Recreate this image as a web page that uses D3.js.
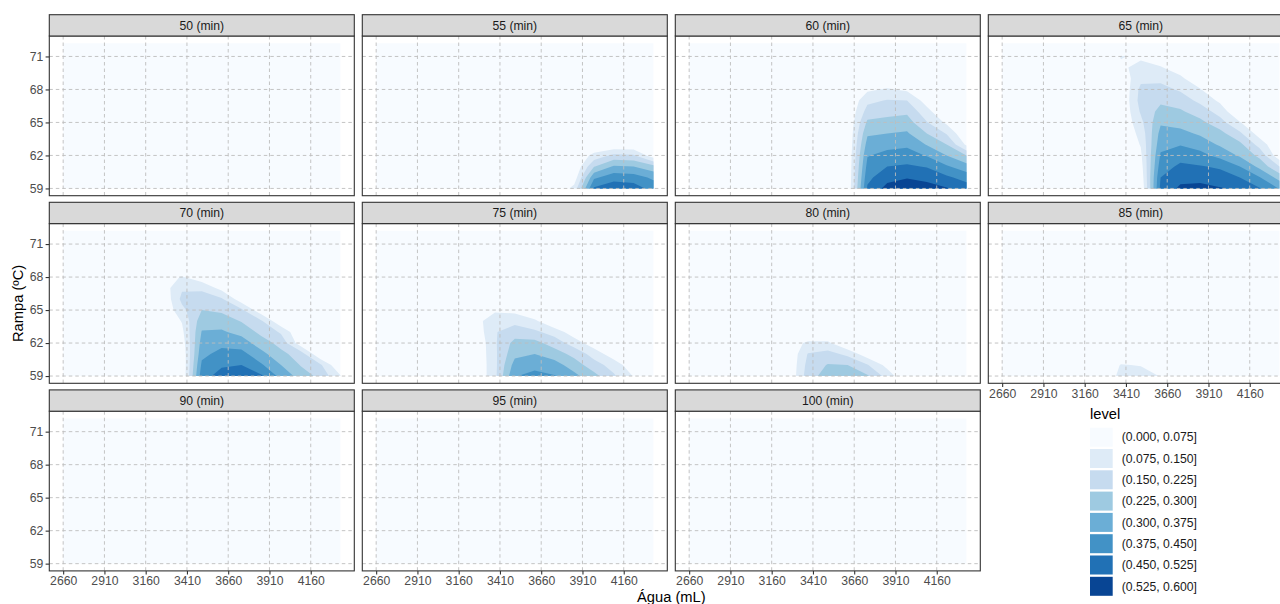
<!DOCTYPE html>
<html>
<head>
<meta charset="utf-8">
<script src="https://cdn.jsdelivr.net/npm/d3@7"></script>
<style>
  body { margin: 0; background: #ffffff; }
  svg { display: block; font-family: "Liberation Sans", Arial, sans-serif; }
</style>
</head>
<body>
<svg id="chart" width="1280" height="604"></svg>
<script>
// Prediction grid: water (mL) columns and ramp temperature (ºC) rows
const agua   = [2660, 3260, 3380, 3500, 3620, 3740, 3860, 3980, 4100, 4220, 4340];
const rampa  = [59, 60, 61, 62, 63, 64, 65, 66, 67, 68, 69, 70, 71, 72.2];
const tempos = [50, 55, 60, 65, 70, 75, 80, 85, 90, 95, 100];

const aguaTicks  = [2660, 2910, 3160, 3410, 3660, 3910, 4160];
const rampaTicks = [59, 62, 65, 68, 71];

const niveis = [0, 0.075, 0.15, 0.225, 0.3, 0.375, 0.45, 0.525, 0.6];
const cores  = ["#f7fbff", "#deebf7", "#c6dbef", "#9ecae1", "#6baed6", "#4292c6", "#2171b5", "#084594"];

// Predicted level per time; each row is one Rampa value (from 59 upwards),
// rows not listed are 0 across the whole row
const z50 = [];
const z55 = [
  [0, 0, 0, 0, 0, 0, 0.10, 0.46, 0.50, 0.49, 0.42],
  [0, 0, 0, 0, 0, 0, 0.03, 0.36, 0.42, 0.41, 0.36],
  [0, 0, 0, 0, 0, 0, 0.00, 0.22, 0.31, 0.30, 0.25],
  [0, 0, 0, 0, 0, 0, 0.00, 0.10, 0.17, 0.16, 0.03]
];
const z60 = [
  [0, 0, 0, 0, 0, 0.46, 0.55, 0.57, 0.56, 0.53, 0.49],
  [0, 0, 0, 0, 0, 0.43, 0.50, 0.52, 0.50, 0.465, 0.42],
  [0, 0, 0, 0, 0, 0.40, 0.45, 0.46, 0.445, 0.385, 0.33],
  [0, 0, 0, 0, 0, 0.37, 0.40, 0.41, 0.37, 0.30, 0.225],
  [0, 0, 0, 0, 0, 0.33, 0.35, 0.36, 0.295, 0.225, 0.06],
  [0, 0, 0, 0, 0, 0.29, 0.30, 0.31, 0.225, 0.145, 0],
  [0, 0, 0, 0, 0, 0.24, 0.25, 0.26, 0.155, 0.06, 0],
  [0, 0, 0, 0, 0, 0.18, 0.20, 0.21, 0.10, 0, 0],
  [0, 0, 0, 0, 0, 0.13, 0.155, 0.15, 0.04, 0, 0],
  [0, 0, 0, 0, 0, 0.06, 0.085, 0.06, 0, 0, 0]
];
const z65 = [
  [0, 0, 0, 0.00, 0.47, 0.54, 0.55, 0.53, 0.51, 0.455, 0.37],
  [0, 0, 0, 0.02, 0.45, 0.50, 0.50, 0.48, 0.45, 0.38, 0.27],
  [0, 0, 0, 0.04, 0.415, 0.465, 0.455, 0.44, 0.375, 0.28, 0.15],
  [0, 0, 0, 0.06, 0.385, 0.42, 0.40, 0.35, 0.29, 0.205, 0.02],
  [0, 0, 0, 0.08, 0.35, 0.37, 0.34, 0.29, 0.245, 0.12, 0],
  [0, 0, 0, 0.10, 0.325, 0.32, 0.29, 0.25, 0.165, 0.04, 0],
  [0, 0, 0, 0.13, 0.29, 0.275, 0.245, 0.18, 0.08, 0, 0],
  [0, 0, 0, 0.16, 0.25, 0.235, 0.19, 0.12, 0, 0, 0],
  [0, 0, 0, 0.18, 0.21, 0.19, 0.13, 0.06, 0, 0, 0],
  [0, 0, 0, 0.17, 0.175, 0.14, 0.08, 0, 0, 0, 0],
  [0, 0, 0.02, 0.13, 0.13, 0.09, 0.02, 0, 0, 0, 0],
  [0, 0, 0.06, 0.10, 0.08, 0.04, 0, 0, 0, 0, 0],
  [0, 0, 0.08, 0.06, 0.03, 0, 0, 0, 0, 0, 0]
];
const z70 = [
  [0, 0, 0.00, 0.42, 0.48, 0.50, 0.46, 0.35, 0.27, 0.20, 0.08],
  [0, 0, 0.00, 0.39, 0.44, 0.45, 0.385, 0.30, 0.22, 0.16, 0],
  [0, 0, 0.01, 0.355, 0.40, 0.40, 0.325, 0.245, 0.19, 0, 0],
  [0, 0, 0.03, 0.33, 0.355, 0.34, 0.26, 0.20, 0.03, 0, 0],
  [0, 0, 0.055, 0.305, 0.31, 0.275, 0.205, 0.14, 0, 0, 0],
  [0, 0, 0.08, 0.27, 0.265, 0.22, 0.16, 0.01, 0, 0, 0],
  [0, 0, 0.13, 0.225, 0.21, 0.165, 0.02, 0, 0, 0, 0],
  [0, 0, 0.17, 0.20, 0.16, 0.03, 0, 0, 0, 0, 0],
  [0, 0.03, 0.14, 0.13, 0.05, 0, 0, 0, 0, 0, 0],
  [0, 0.04, 0.08, 0.03, 0, 0, 0, 0, 0, 0, 0]
];
const z75 = [
  [0, 0, 0.13, 0.37, 0.40, 0.38, 0.32, 0.25, 0.16, 0.07, 0],
  [0, 0, 0.13, 0.33, 0.35, 0.33, 0.265, 0.18, 0.12, 0.02, 0],
  [0, 0, 0.135, 0.28, 0.30, 0.265, 0.20, 0.12, 0.03, 0, 0],
  [0, 0, 0.14, 0.25, 0.25, 0.19, 0.115, 0.03, 0, 0, 0],
  [0, 0.02, 0.145, 0.185, 0.165, 0.12, 0.03, 0, 0, 0, 0],
  [0, 0.04, 0.13, 0.13, 0.09, 0, 0, 0, 0, 0, 0],
  [0, 0.03, 0.06, 0.05, 0, 0, 0, 0, 0, 0, 0]
];
const z80 = [
  [0, 0, 0.19, 0.26, 0.26, 0.235, 0.12, 0, 0, 0, 0],
  [0, 0, 0.175, 0.23, 0.225, 0.155, 0.05, 0, 0, 0, 0],
  [0, 0, 0.155, 0.18, 0.13, 0.03, 0, 0, 0, 0, 0],
  [0, 0.03, 0.09, 0.09, 0, 0, 0, 0, 0, 0, 0]
];
const z85 = [
  [0, 0, 0.10, 0.12, 0.07, 0, 0, 0, 0, 0, 0],
  [0, 0, 0.08, 0.07, 0, 0, 0, 0, 0, 0, 0]
];
const z90 = [];
const z95 = [];
const z100 = [];

const superficies = [z50, z55, z60, z65, z70, z75, z80, z85, z90, z95, z100];

// ---- layout ----
const svg = d3.select("#chart");
const nCols = 4;
const panelW = 305, panelH = 159.7, stripH = 21.3;
const colX0 = 49.3, colStep = 313;
const rowY0 = 14.7, rowStep = 187.6;
const tickLen = 3.7, tickPad = 2.2;
const smallFont = 12.2, titleFont = 14.7;
const gridColor = "#bdbdbd", borderColor = "#333333";

// ggplot-style 5% expansion on both axes
const xPad = (agua[agua.length - 1] - agua[0]) * 0.05;
const yPad = (rampa[rampa.length - 1] - rampa[0]) * 0.05;
const x = d3.scaleLinear().domain([agua[0] - xPad, agua[agua.length - 1] + xPad]).range([0, panelW]);
const y = d3.scaleLinear().domain([rampa[0] - yPad, rampa[rampa.length - 1] + yPad]).range([panelH, 0]);

// grid index -> data value (cell centres sit at i + 0.5)
const gx = d3.scaleLinear().domain(agua.map((_, i) => i + 0.5)).range(agua).clamp(true);
const gy = d3.scaleLinear().domain(rampa.map((_, i) => i + 0.5)).range(rampa).clamp(true);
const path = d3.geoPath(d3.geoTransform({
  point(px, py) { this.stream.point(x(gx(px)), y(gy(py))); }
}));

const nx = agua.length, ny = rampa.length;
const contours = d3.contours().size([nx, ny]).thresholds(niveis.slice(0, -1));

tempos.forEach((t, k) => {
  const col = k % nCols, row = Math.floor(k / nCols);
  const left = colX0 + col * colStep;
  const stripTop = rowY0 + row * rowStep;
  const top = stripTop + stripH;

  const rows = superficies[k];
  const values = new Array(nx * ny);
  for (let j = 0; j < ny; j++)
    for (let i = 0; i < nx; i++)
      values[i + j * nx] = rows[j] ? rows[j][i] : 0;

  const g = svg.append("g").attr("transform", `translate(${left},${top})`);

  // filled level bands
  g.append("g").selectAll("path")
    .data(contours(values))
    .join("path")
    .attr("d", path)
    .attr("fill", d => cores[niveis.indexOf(d.value)])
    .attr("stroke", "none");

  // dashed major grid drawn over the fills
  const grid = g.append("g").attr("stroke", gridColor).attr("stroke-width", 0.9)
    .attr("stroke-dasharray", "3.5,3").attr("fill", "none");
  grid.selectAll("line.v").data(aguaTicks).join("line").attr("class", "v")
    .attr("x1", d => x(d)).attr("x2", d => x(d)).attr("y1", 0).attr("y2", panelH);
  grid.selectAll("line.h").data(rampaTicks).join("line").attr("class", "h")
    .attr("y1", d => y(d)).attr("y2", d => y(d)).attr("x1", 0).attr("x2", panelW);

  // panel border
  g.append("rect").attr("width", panelW).attr("height", panelH)
    .attr("fill", "none").attr("stroke", borderColor).attr("stroke-width", 1.1);

  // strip
  const s = svg.append("g").attr("transform", `translate(${left},${stripTop})`);
  s.append("rect").attr("width", panelW).attr("height", stripH)
    .attr("fill", "#d9d9d9").attr("stroke", borderColor).attr("stroke-width", 1.1);
  s.append("text").attr("x", panelW / 2).attr("y", stripH / 2).attr("dy", "0.35em")
    .attr("text-anchor", "middle").attr("font-size", smallFont).attr("fill", "#1a1a1a")
    .text(`${t} (min)`);

  // y axis on the first column
  if (col === 0) {
    const ay = g.append("g").call(d3.axisLeft(y).tickValues(rampaTicks).tickSize(tickLen).tickPadding(tickPad));
    styleAxis(ay);
  }
  // x axis on panels with nothing below them
  const below = k + nCols;
  if (below >= tempos.length) {
    const ax = g.append("g").attr("transform", `translate(0,${panelH})`)
      .call(d3.axisBottom(x).tickValues(aguaTicks).tickFormat(d3.format("d")).tickSize(tickLen).tickPadding(tickPad));
    styleAxis(ax);
  }
});

function styleAxis(a) {
  a.select(".domain").remove();
  a.selectAll(".tick line").attr("stroke", borderColor).attr("stroke-width", 1.1);
  a.selectAll(".tick text").attr("fill", "#4d4d4d").attr("font-size", smallFont)
    .attr("font-family", "'Liberation Sans', Arial, sans-serif");
}

// axis titles
const bottomOfPanels = rowY0 + 2 * rowStep + stripH + panelH;
svg.append("text")
  .attr("x", colX0 + (3 * colStep + panelW) / 2).attr("y", 602)
  .attr("text-anchor", "middle").attr("font-size", titleFont).attr("fill", "#000")
  .text("Água (mL)");
svg.append("text")
  .attr("transform", `translate(17.5,${(rowY0 + stripH + bottomOfPanels) / 2}) rotate(-90)`)
  .attr("dy", "0.35em").attr("text-anchor", "middle").attr("font-size", titleFont).attr("fill", "#000")
  .text("Rampa (ºC)");

// legend
const legX = 1090, legY = 427.7, keyW = 22.7, keyH = 19, keyStep = 21.3;
const leg = svg.append("g");
leg.append("text").attr("x", legX).attr("y", 419).attr("font-size", titleFont).attr("fill", "#000").text("level");
const faixas = cores.map((c, i) => ({
  cor: c,
  rotulo: `(${niveis[i].toFixed(3)}, ${niveis[i + 1].toFixed(3)}]`
}));
const item = leg.selectAll("g.item").data(faixas).join("g").attr("class", "item")
  .attr("transform", (d, i) => `translate(${legX},${legY + i * keyStep})`);
item.append("rect").attr("width", keyW).attr("height", keyH).attr("fill", d => d.cor);
item.append("text").attr("x", keyW + 9).attr("y", keyH / 2).attr("dy", "0.35em")
  .attr("font-size", smallFont).attr("fill", "#1a1a1a").text(d => d.rotulo);
</script>
</body>
</html>
